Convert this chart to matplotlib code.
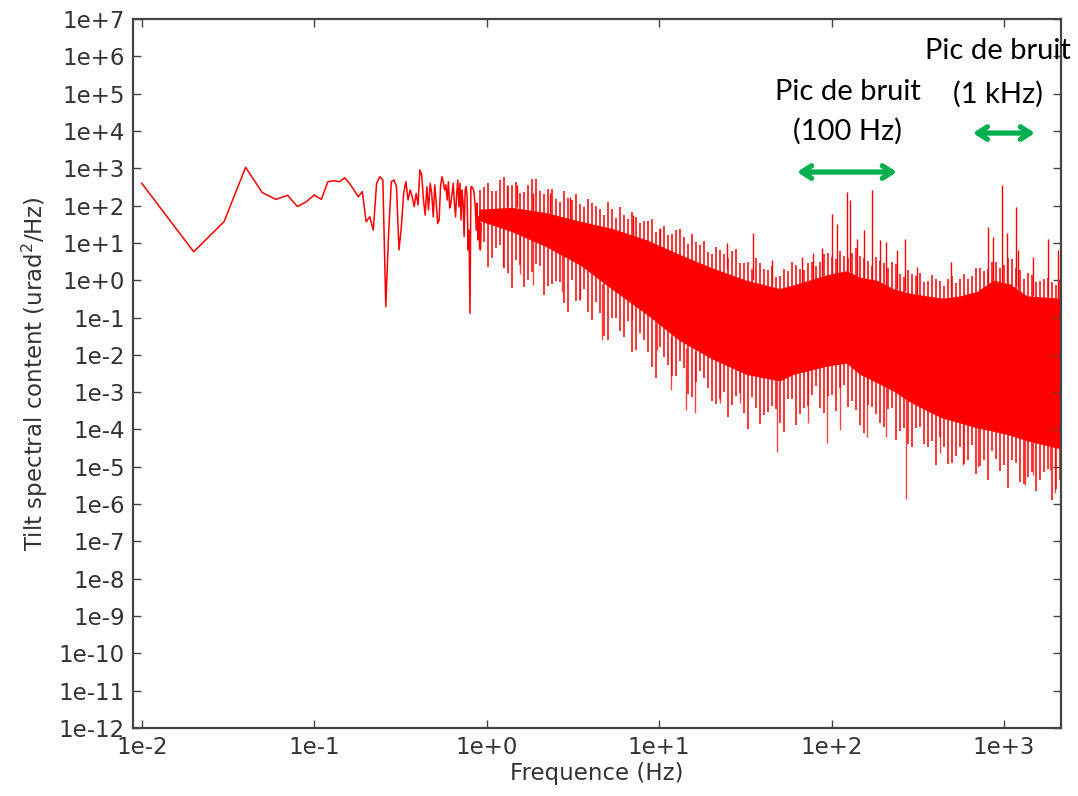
import numpy as np
import matplotlib
matplotlib.use('Agg')
import matplotlib.pyplot as plt
from matplotlib.ticker import FixedLocator, FuncFormatter, NullLocator

# Low frequency part: one value every 0.01 Hz (0.01 .. 0.93 Hz)
lf_freq = np.arange(1, 94) * 0.01
lf_psd = [395, 5.8, 37, 1060, 222, 147, 189, 94, 127, 192,
          147, 437, 465, 437, 560, 395, 262, 173, 236, 37,
          50, 22, 395, 594, 485, 0.195, 18, 437, 485, 321,
          6.5, 27, 213, 437, 141, 262, 173, 94, 213, 104,
          900, 660, 141, 56, 321, 76, 395, 213, 50, 360,
          115, 33, 41, 321, 594, 437, 262, 360, 141, 437,
          86, 115, 213, 395, 115, 50, 213, 485, 94, 395,
          41, 262, 115, 14.7, 262, 321, 173, 6.5, 22, 0.13,
          321, 321, 290, 262, 160, 86, 22, 115, 12, 50,
          7.5, 6.5, 33]

# Dense part: core of the solid noise band
band_freq = [0.9, 1.4, 2.2, 3.5, 5.4, 8.5, 13, 20, 32, 50, 60, 94, 122, 146,
             183, 226, 284, 356, 441, 554, 696, 862, 1081, 1357, 2140]
band_top = [80, 90, 65, 38, 24, 12, 5, 2.2, 1.0, 0.6, 0.75, 1.4, 1.8, 1.2,
            1.0, 0.6, 0.45, 0.38, 0.33, 0.38, 0.5, 1.0, 0.8, 0.38, 0.33]
band_bot = [40, 20, 8, 2.5, 0.55, 0.12, 0.025, 0.008, 0.003, 0.002,
            0.003, 0.005, 0.006, 0.003, 0.0018, 1.1e-3, 5.5e-4, 3.2e-4,
            2e-4, 1.5e-4, 1.1e-4, 9e-5, 7e-5, 5e-5, 3e-5]

# Ragged edges of the band: local min / max (log10 of PSD), two interleaved combs
fringe_freq = [0.914, 1.02, 1.13, 1.26, 1.40, 1.56, 1.73, 1.93, 2.15, 2.39,
               2.66, 2.96, 3.29, 3.66, 4.08, 4.54, 5.05, 5.61, 6.25, 6.95,
               7.74, 8.61, 9.58, 10.7, 11.9, 13.2, 14.7, 16.3, 18.2, 20.2,
               22.5, 25.1, 27.9, 31.0, 34.5, 38.4, 42.7, 47.5, 52.9, 58.9,
               65.5, 72.8, 81.1, 90.2, 100, 112, 124, 138, 154, 171,
               191, 212, 236, 262, 292, 325, 361, 402, 448, 498,
               554, 617, 686, 763, 849, 945, 1051, 1170, 1301, 1448,
               1611, 1793, 1995]
fringe_hi_log = [2.42, 2.61, 2.39, 2.77, 2.55, 2.34, 2.55, 2.71, 2.31, 2.45,
                 2.10, 2.20, 2.31, 1.96, 2.07, 1.91, 2.10, 1.67, 1.75, 1.83,
                 1.53, 1.59, 1.29, 1.45, 1.24, 1.37, 0.97, 1.03, 1.05, 0.70,
                 0.81, 0.60, 0.84, 0.46, 0.30, 0.46, 0.27, 0.09, 0.30, 0.49,
                 0.30, 0.46, 0.38, 0.70, 0.62, 0.78, 0.60, 0.86, 0.60, 0.38,
                 0.52, 0.33, 0.44, 0.09, 0.17, 0.19, -0.02, 0.03, -0.15, 0.11,
                 0.03, 0.03, 0.33, 0.25, 0.49, 0.33, 0.60, 0.33, 0.03, 0.14,
                 -0.02, 0.06, -0.13]
fringe_lo_log = [0.86, 0.36, 0.86, 0.33, -0.21, 0.41, 0.01, 0.44, -0.40, -0.10,
                 -0.05, -0.85, -0.56, -0.24, -1.07, -0.88, -1.60, -1.01, -1.52, -1.92,
                 -1.41, -1.92, -2.62, -2.06, -2.57, -2.16, -3.05, -2.73, -2.62, -3.24,
                 -3.18, -3.67, -3.10, -3.56, -3.13, -3.85, -3.53, -3.45, -4.07, -3.18,
                 -3.58, -3.37, -2.83, -3.56, -3.08, -2.89, -3.40, -3.48, -4.09, -3.40,
                 -3.83, -3.45, -4.28, -3.96, -4.47, -3.93, -4.47, -4.95, -4.47, -4.90,
                 -4.47, -4.82, -5.19, -4.82, -4.58, -5.11, -5.57, -4.90, -5.46, -5.14,
                 -5.35, -5.06, -5.59]

fringe2_freq = [0.964, 1.08, 1.19, 1.33, 1.48, 1.65, 1.83, 2.04, 2.27, 2.52,
                2.81, 3.12, 3.47, 3.86, 4.30, 4.79, 5.33, 5.92, 6.59, 7.33,
                8.17, 9.08, 10.1, 11.3, 12.6, 13.9, 15.5, 17.2, 19.2, 21.3,
                23.7, 26.5, 29.4, 32.7, 36.4, 40.5, 45.0, 50.1, 55.8, 62.1,
                69.1, 76.8, 85.6, 95.2, 106, 118, 131, 146, 162, 180,
                201, 224, 249, 276, 308, 343, 381, 424, 473, 525,
                584, 651, 724, 805, 896, 997, 1109, 1234, 1373, 1528,
                1700, 1892, 2105]
fringe2_hi_log = [2.50, 2.39, 2.69, 2.53, 2.63, 2.36, 2.71, 2.39, 2.44, 2.18,
                  2.39, 2.15, 2.04, 2.18, 1.99, 1.75, 1.91, 1.96, 1.64, 1.69,
                  1.59, 1.64, 1.37, 1.21, 1.35, 1.16, 1.24, 0.94, 0.76, 0.89,
                  0.70, 0.78, 0.46, 0.49, 0.60, 0.30, 0.38, 0.11, 0.25, 0.41,
                  0.27, 0.49, 0.49, 0.73, 0.57, 0.65, 0.73, 0.65, 0.52, 0.62,
                  0.46, 0.49, 0.17, 0.27, 0.11, -0.05, 0.14, -0.02, 0.03, -0.07,
                  0.17, 0.11, 0.33, 0.30, 0.49, 0.41, 0.57, 0.27, 0.19, -0.05,
                  0.03, -0.05, -0.02]
fringe2_lo_log = [1.02, 0.60, 0.94, 0.19, 0.54, -0.18, 0.22, 0.38, -0.15, -0.02,
                  -0.61, 0.01, -0.53, -0.85, -0.58, -1.49, -1.01, -1.36, -1.09, -1.87,
                  -1.60, -2.32, -1.79, -2.27, -2.57, -2.35, -3.13, -2.43, -2.89, -3.32,
                  -2.99, -3.34, -3.02, -3.99, -3.42, -3.61, -3.37, -3.83, -3.18, -3.88,
                  -3.42, -3.08, -3.42, -3.10, -3.50, -2.81, -3.24, -3.88, -3.34, -3.58,
                  -3.93, -3.42, -4.04, -4.39, -3.96, -4.39, -4.31, -4.20, -4.92, -4.71,
                  -4.92, -4.41, -4.98, -5.35, -4.79, -4.95, -4.82, -5.41, -5.27, -5.65,
                  -5.14, -5.89, -5.35]

# Upward peaks (frequency, tip, foot inside the band)
up_freq = [1.31, 1.49, 1.85, 2.33, 3.04, 7.06, 10.1, 24.7, 35, 44.9, 67, 78,
           87.5, 101, 108, 123, 128, 140, 154, 171, 191, 207, 238, 266, 311,
           492, 809, 865, 975, 1033, 1166, 1207, 1463, 1802, 2050]
up_tip = [357, 357, 215, 222, 173, 56, 25, 10, 18, 3.5, 4.3, 5.4,
          7.2, 60, 33, 236, 141, 13, 22, 262, 12, 10.8, 6.5, 12.5, 2.3,
          3.1, 27, 14.7, 357, 18, 94, 6.5, 4.3, 13, 6.5]
up_foot = [90, 90, 70, 60, 45, 15, 8, 2, 1, 0.7, 0.8, 1.1,
           1.3, 1.5, 1.6, 1.8, 1.7, 1.3, 1.1, 1.0, 0.9, 0.7, 0.6, 0.5, 0.4,
           0.35, 0.8, 0.9, 0.9, 0.9, 0.7, 0.6, 0.38, 0.35, 0.33]

# Downward dips (frequency, tip, foot inside the band)
dn_freq = [1.25, 1.56, 1.86, 2.72, 3.48, 4.64, 6.93, 9.7, 11.7, 14.4, 16.1,
           22.5, 29.4, 48, 73, 93.5, 112, 161, 208, 270, 425, 580, 708,
           1321, 1476, 1845, 1972]
dn_tip = [2.3, 1.5, 0.74, 0.49, 0.30, 0.025, 0.086, 0.0135, 0.00115, 3.3e-4,
          2.7e-4, 5.1e-4, 5.1e-4, 2.5e-5, 1.5e-4, 4.3e-5, 9.7e-5, 6.4e-5,
          6.4e-5, 1.4e-6, 2.3e-5, 1.1e-5, 1.0e-5, 3.3e-6, 6.0e-6, 8.2e-6, 1.95e-6]
dn_foot = [30, 20, 12, 5, 2.5, 0.8, 0.25, 0.08, 0.03, 0.015, 0.012,
           0.007, 0.004, 0.003, 0.004, 0.005, 0.006, 0.003, 0.002, 9e-4,
           2.5e-4, 1.8e-4, 1.3e-4, 8e-5, 7e-5, 5e-5, 4e-5]

red = '#ff0000'
green = '#00b050'
grey = '#333333'

fig = plt.figure(figsize=(10.78, 7.96), dpi=100)
ax = fig.add_axes([0.1234, 0.0854, 0.8609, 0.8907])

ax.plot(lf_freq, lf_psd, color=red, lw=1.1)
ax.fill_between(band_freq, band_bot, band_top, color=red, lw=0)
ax.vlines(fringe_freq, 10.0 ** np.array(fringe_lo_log),
          10.0 ** np.array(fringe_hi_log), color=red, lw=1.1)
ax.vlines(fringe2_freq, 10.0 ** np.array(fringe2_lo_log),
          10.0 ** np.array(fringe2_hi_log), color=red, lw=1.1)
ax.vlines(up_freq, up_foot, up_tip, color=red, lw=1.0)
ax.vlines(dn_freq, dn_tip, dn_foot, color=red, lw=1.0, alpha=0.75)

ax.set_xscale('log')
ax.set_yscale('log')
ax.set_xlim(0.0089, 2140)
ax.set_ylim(1e-12, 1e7)

xt = [1e-2, 1e-1, 1e0, 1e1, 1e2, 1e3]
yt = [10.0 ** e for e in range(-12, 8)]
fmt = FuncFormatter(lambda v, pos: '1e%+d' % int(round(np.log10(v))))
ax.xaxis.set_major_locator(FixedLocator(xt))
ax.yaxis.set_major_locator(FixedLocator(yt))
ax.xaxis.set_minor_locator(NullLocator())
ax.yaxis.set_minor_locator(NullLocator())
ax.xaxis.set_major_formatter(fmt)
ax.yaxis.set_major_formatter(fmt)
ax.tick_params(which='both', direction='in', top=True, right=True,
               length=6, width=1, color='#444444', labelsize=16.5,
               labelcolor=grey, pad=6)
for s in ax.spines.values():
    s.set_color('#444444')
    s.set_linewidth(1.6)

ax.set_xlabel('Frequence (Hz)', fontsize=16.5, color=grey, labelpad=2)
ax.set_ylabel('Tilt spectral content (urad$^2$/Hz)', fontsize=16.5,
              color=grey, labelpad=6)

# Noise peak annotations
tfont = dict(family=['Lato', 'DejaVu Sans'], fontsize=21, color='black',
             ha='center', va='center', clip_on=False)
ax.text(124, 1.1e5, 'Pic de bruit', **tfont)
ax.text(124, 1.0e4, '(100 Hz)', **tfont)
ax.text(927, 1.39e6, 'Pic de bruit', **tfont)
ax.text(927, 9.8e4, '(1 kHz)', **tfont)

aprops = dict(arrowstyle='<->,head_length=0.7,head_width=0.45', color=green,
              lw=3.8, shrinkA=0, shrinkB=0, capstyle='round', joinstyle='round')
ax.annotate('', xy=(63, 794), xytext=(239, 794), arrowprops=aprops)
ax.annotate('', xy=(659, 8800), xytext=(1510, 8800), arrowprops=aprops)

plt.savefig('out.png', dpi=100)
